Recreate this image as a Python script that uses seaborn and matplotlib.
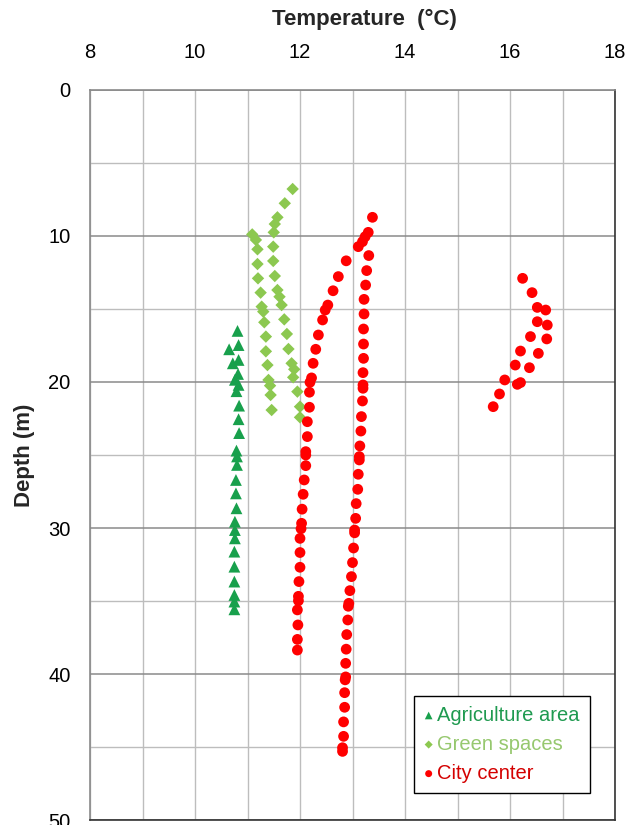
import numpy as np
import pandas as pd
import matplotlib
matplotlib.use("Agg")
import matplotlib.pyplot as plt
from matplotlib.ticker import MultipleLocator
import seaborn as sns

# Agriculture area profile
agri_temp = [10.81, 10.83, 10.65, 10.83, 10.72, 10.82, 10.76, 10.83, 10.79, 10.84,
             10.83, 10.84, 10.79, 10.80, 10.80, 10.78, 10.78, 10.79, 10.76, 10.76,
             10.76, 10.75, 10.75, 10.75, 10.75, 10.75, 10.75]
agri_depth = [16.5, 17.47, 17.76, 18.49, 18.72, 19.45, 19.85, 20.2, 20.63, 21.62,
              22.55, 23.5, 24.7, 25.1, 25.68, 26.71, 27.63, 28.65, 29.57, 30.14,
              30.71, 31.62, 32.65, 33.67, 34.59, 35.04, 35.57]

# Green spaces profile (two boreholes)
green_temp = [11.09, 11.16, 11.19, 11.19, 11.20, 11.25, 11.27, 11.30, 11.32, 11.35,
              11.35, 11.38, 11.40, 11.43, 11.44, 11.46,
              11.86, 11.71, 11.57, 11.52, 11.50, 11.49, 11.49, 11.52, 11.57, 11.61,
              11.65, 11.70, 11.75, 11.78, 11.84, 11.89, 11.87, 11.95, 12.00, 12.00]
green_depth = [9.89, 10.27, 10.91, 11.92, 12.9, 13.88, 14.84, 15.18, 15.91, 16.89,
               17.9, 18.84, 19.86, 20.25, 20.89, 21.92,
               6.78, 7.76, 8.72, 9.18, 9.75, 10.73, 11.71, 12.74, 13.70, 14.16,
               14.73, 15.71, 16.71, 17.74, 18.72, 19.13, 19.68, 20.66, 21.69, 22.42]

# City center profiles (three boreholes)
city_temp = [13.38, 13.30, 13.24, 13.19, 13.11, 13.31, 13.27, 13.25, 13.22, 13.22,
             13.21, 13.21, 13.21, 13.20, 13.20, 13.20, 13.19, 13.17, 13.16, 13.14,
             13.13, 13.13, 13.11, 13.10, 13.07, 13.06, 13.04, 13.04, 13.02, 13.00,
             12.98, 12.95, 12.93, 12.92, 12.91, 12.89, 12.88, 12.87, 12.87, 12.86,
             12.85, 12.85, 12.83, 12.83, 12.81, 12.81,
             12.88, 12.73, 12.63, 12.53, 12.48, 12.43, 12.35, 12.30, 12.25, 12.22,
             12.19, 12.18, 12.18, 12.14, 12.14, 12.11, 12.11, 12.11, 12.08, 12.06,
             12.04, 12.03, 12.02, 12.00, 12.00, 12.00, 11.98, 11.97, 11.97, 11.95,
             11.96, 11.95, 11.95,
             16.24, 16.42, 16.52, 16.68, 16.52, 16.71, 16.39, 16.70, 16.20, 16.54,
             16.10, 16.37, 15.90, 16.20, 16.14, 15.80, 15.68]
city_depth = [8.72, 9.75, 10.05, 10.39, 10.73, 11.34, 12.37, 13.36, 14.34, 15.34,
              16.37, 17.40, 18.38, 19.36, 20.2, 20.43, 21.3, 22.37, 23.36, 24.38,
              25.11, 25.34, 26.32, 27.35, 28.33, 29.34, 30.14, 30.33, 31.37, 32.37,
              33.33, 34.29, 35.16, 35.36, 36.3, 37.3, 38.3, 39.27, 40.2, 40.4,
              41.28, 42.28, 43.28, 44.27, 45.05, 45.3,
              11.70, 12.78, 13.75, 14.73, 15.07, 15.75, 16.78, 17.76, 18.72, 19.72,
              20.02, 20.7, 21.73, 22.72, 23.74, 24.77, 25.0, 25.73, 26.71, 27.69,
              28.71, 29.68, 30.05, 30.71, 31.68, 32.69, 33.67, 34.68, 34.98, 35.61,
              36.64, 37.63, 38.36,
              12.9, 13.88, 14.89, 15.07, 15.87, 16.1, 16.89, 17.05, 17.88, 18.04,
              18.84, 19.02, 19.86, 20.04, 20.16, 20.82, 21.69]

sites = ["Agriculture area", "Green spaces", "City center"]
marker_colors = {"Agriculture area": "#18a04c", "Green spaces": "#8cc850", "City center": "#ff0000"}
text_colors = ["#1f9a50", "#96c86e", "#d40000"]
markers = {"Agriculture area": "^", "Green spaces": "D", "City center": "o"}
sizes = {"Agriculture area": 72, "Green spaces": 40, "City center": 60}

df = pd.concat([
    pd.DataFrame({"Temperature": agri_temp, "Depth": agri_depth, "Site": sites[0]}),
    pd.DataFrame({"Temperature": green_temp, "Depth": green_depth, "Site": sites[1]}),
    pd.DataFrame({"Temperature": city_temp, "Depth": city_depth, "Site": sites[2]}),
], ignore_index=True)

sns.set_style("white")
plt.rcParams["font.family"] = ["Liberation Sans", "DejaVu Sans"]

fig = plt.figure(figsize=(6.3, 8.25), dpi=100)
ax = fig.add_axes([90 / 630, 5 / 825, 525 / 630, 730 / 825])

for site in sites:
    sns.scatterplot(data=df[df["Site"] == site], x="Temperature", y="Depth",
                    marker=markers[site], color=marker_colors[site], s=sizes[site],
                    edgecolor="none", linewidth=0, ax=ax, label=site, zorder=3)

ax.set_xlim(8, 18)
ax.set_ylim(50, 0)
ax.xaxis.set_major_locator(MultipleLocator(2))
ax.xaxis.set_minor_locator(MultipleLocator(1))
ax.yaxis.set_major_locator(MultipleLocator(10))
ax.yaxis.set_minor_locator(MultipleLocator(5))

ax.xaxis.tick_top()
ax.xaxis.set_label_position("top")
ax.tick_params(axis="both", which="both", length=0, labelsize=14.5, colors="black")
ax.tick_params(axis="x", pad=20)
ax.tick_params(axis="y", pad=14)

ax.grid(True, which="major", axis="y", color="#8a8a8a", linewidth=1.1)
ax.grid(True, which="minor", axis="y", color="#bdbdbd", linewidth=1.0)
ax.grid(True, which="both", axis="x", color="#bdbdbd", linewidth=1.0)
ax.set_axisbelow(True)

for side, col in [("left", "#8a8a8a"), ("top", "#8a8a8a"), ("bottom", "#333333"), ("right", "#333333")]:
    ax.spines[side].set_visible(True)
    ax.spines[side].set_color(col)
    ax.spines[side].set_linewidth(1.2)

ax.set_xlabel("Temperature  (\u00b0C)", fontsize=16, fontweight="bold")
ax.xaxis.label.set_va("center")
ax.xaxis.set_label_coords(0.522, 1.096)
ax.set_ylabel("Depth (m)", fontsize=16, fontweight="bold")
ax.yaxis.label.set_va("center")
ax.yaxis.label.set_ha("center")
ax.yaxis.set_label_coords(-0.124, 0.5)

handles, labels = ax.get_legend_handles_labels()
leg = ax.legend(handles, labels, loc="lower right", bbox_to_anchor=(0.952, 0.037),
                fontsize=14.5, frameon=True, fancybox=False, framealpha=1,
                edgecolor="black", handlelength=0.45, handletextpad=0.2,
                borderpad=0.5, labelspacing=0.5, borderaxespad=0,
                labelcolor=text_colors, markerscale=0.65)
leg.get_frame().set_linewidth(1.0)

fig.savefig("out.png", dpi=100)
